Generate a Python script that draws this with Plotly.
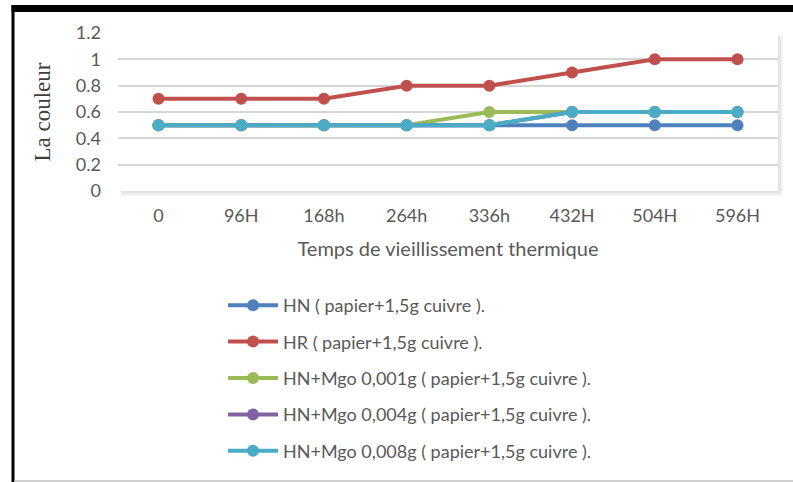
import plotly.graph_objects as go

W, H = 793, 482
ML, MR, MT, MB = 118, 15, 33, 291

temps = ["0", "96H", "168h", "264h", "336h", "432H", "504H", "596H"]
hn = [0.5, 0.5, 0.5, 0.5, 0.5, 0.5, 0.5, 0.5]
hr = [0.7, 0.7, 0.7, 0.8, 0.8, 0.9, 1.0, 1.0]
mgo_001 = [0.5, 0.5, 0.5, 0.5, 0.6, 0.6, 0.6, 0.6]
mgo_004 = [0.5, 0.5, 0.5, 0.5, 0.5, 0.6, 0.6, 0.6]
mgo_008 = [0.5, 0.5, 0.5, 0.5, 0.5, 0.6, 0.6, 0.6]

series = [
    ("HN ( papier+1,5g cuivre ).", hn, "#4F81BD"),
    ("HR ( papier+1,5g cuivre ).", hr, "#C0504D"),
    ("HN+Mgo 0,001g ( papier+1,5g cuivre ).", mgo_001, "#9BBB59"),
    ("HN+Mgo 0,004g ( papier+1,5g cuivre ).", mgo_004, "#8064A2"),
    ("HN+Mgo 0,008g ( papier+1,5g cuivre ).", mgo_008, "#4BACC6"),
]

PW = W - ML - MR
PH = H - MT - MB


def px(x):
    return (x - ML) / PW


def py(y):
    return (H - MB - y) / PH


fig = go.Figure()
for i, (name, vals, color) in enumerate(series):
    fig.add_trace(
        go.Scatter(
            x=temps,
            y=vals,
            name=name,
            mode="lines+markers",
            line={"color": color, "width": 4},
            marker={"color": color, "size": 12},
            legendgroup=str(i),
        )
    )

shapes = []
# soft shadow on the right and bottom edges of the plot area
right, bottom = W - MR, H - MB
for k in range(1, 6):
    shade = "rgba(0,0,0,%.2f)" % (0.12 - 0.02 * (k - 1))
    shapes.append(dict(
        type="rect", xref="paper", yref="paper", layer="below",
        x0=px(right + k - 1), x1=px(right + k), y0=py(bottom + k), y1=py(MT + 3),
        fillcolor=shade, line={"width": 0},
    ))
    shapes.append(dict(
        type="rect", xref="paper", yref="paper", layer="below",
        x0=px(ML + 3), x1=px(right + k - 1), y0=py(bottom + k), y1=py(bottom + k - 1),
        fillcolor=shade, line={"width": 0},
    ))
# frame
shapes += [
    dict(type="rect", xref="paper", yref="paper", x0=px(11.5), x1=px(14.5),
         y0=py(5), y1=py(H + 2), fillcolor="black", line={"width": 0}),
    dict(type="rect", xref="paper", yref="paper", x0=px(11.5), x1=px(W + 2),
         y0=py(5), y1=py(12), fillcolor="black", line={"width": 0}),
    dict(type="rect", xref="paper", yref="paper", x0=px(14.5), x1=px(W + 2),
         y0=py(480), y1=py(482), fillcolor="#d0d0d0", line={"width": 0}),
]

fig.update_layout(
    width=W,
    height=H,
    margin={"l": ML, "r": MR, "t": MT, "b": MB},
    paper_bgcolor="white",
    plot_bgcolor="white",
    font={"family": "Lato, sans-serif", "color": "#595959", "size": 18},
    showlegend=True,
    legend=dict(
        x=px(223), y=py(469), xanchor="left", yanchor="bottom",
        tracegroupgap=10, itemwidth=50,
        font={"size": 18, "color": "#595959"},
        bgcolor="rgba(0,0,0,0)",
    ),
    xaxis=dict(
        showgrid=False, showline=False, zeroline=False,
        ticklabelstandoff=12,
        title=dict(text="Temps de vieillissement thermique",
                   font={"size": 20, "color": "#595959"}, standoff=16),
    ),
    yaxis=dict(
        range=[0, 1.2], dtick=0.2, tickformat="~g",
        showgrid=True, gridcolor="#d6d6d6", gridwidth=2,
        zeroline=False, showline=False, ticklabelstandoff=16,
        title=dict(text="La couleur",
                   font={"family": "Liberation Serif", "size": 23, "color": "#404040"},
                   standoff=18),
    ),
    shapes=shapes,
)

fig.write_html(
    "out.html",
    config={"displayModeBar": False},
    post_script="document.body.style.margin='0';document.body.style.overflow='hidden';",
)
